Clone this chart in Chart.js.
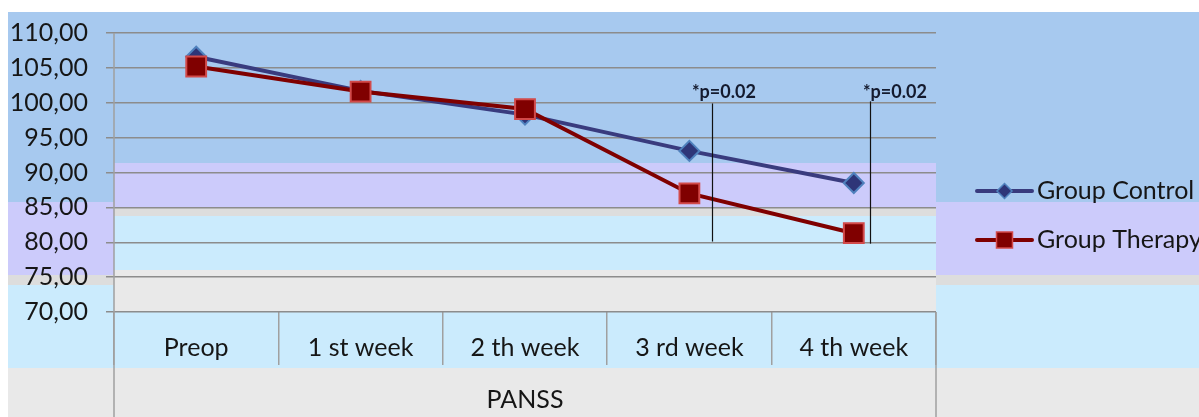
<!DOCTYPE html>
<html>
<head>
<meta charset="utf-8">
<script src="https://cdn.jsdelivr.net/npm/chart.js@4.4.1/dist/chart.umd.min.js"></script>
<style>
  html, body { margin: 0; padding: 0; background: #fff; }
  #chart { display: block; }
</style>
</head>
<body>
<canvas id="chart" width="1199" height="417"></canvas>
<script>
// values
const categories = ['Preop', '1 st week', '2 th week', '3 rd week', '4 th week'];
const groupLabel = 'PANSS';
const seriesNames = ['Group Control', 'Group Therapy'];
const controlValues = [106.6, 101.7, 98.3, 93.1, 88.5];
const therapyValues = [105.2, 101.6, 99.1, 87.0, 81.3];
const yMin = 70, yMax = 110, yStep = 5;

// significance markers (category index / value coordinates)
const pLabels = ['*p=0.02', '*p=0.02'];
const pLineAt = [3.14, 4.1];
const pLineFrom = [99.9, 100.2];
const pLineTo = [80.1, 79.8];
const pLabelAt = [3.21, 4.25];
const pLabelValue = 100.75;

const FONT = 'Lato';
const TEXT = '#161616';
const NAVY = '#393b7e';
const DARKRED = '#7f0000';

// odd striped background of the original picture
const bandsPlugin = {
  id: 'bands',
  beforeDraw(chart) {
    const ctx = chart.ctx;
    const { left, right } = chart.chartArea;
    const W = chart.width, H = chart.height;
    const BLUE = '#a7c9ef', LAV = '#cccbfb', GREY = '#dddddd', SKY = '#cbebfd', PALE = '#e9e9e9';
    ctx.save();
    ctx.fillStyle = '#fff';
    ctx.fillRect(0, 0, W, H);
    const outer = [[12, 202, BLUE], [202, 275, LAV], [275, 285, GREY], [285, 368, SKY], [368, H, PALE]];
    outer.forEach(([a, b, c]) => { ctx.fillStyle = c; ctx.fillRect(8, a, W - 8, b - a); });
    const inner = [[12, 163, BLUE], [163, 208, LAV], [208, 216, GREY], [216, 270, SKY],
                   [270, 312, PALE], [312, 368, SKY], [368, H, PALE]];
    inner.forEach(([a, b, c]) => { ctx.fillStyle = c; ctx.fillRect(left, a, right - left, b - a); });
    ctx.restore();
  }
};

// axis line running down past the category box, and the box's right side
const framePlugin = {
  id: 'frame',
  afterDraw(chart) {
    const ctx = chart.ctx;
    const { left, right, top, bottom } = chart.chartArea;
    ctx.save();
    ctx.strokeStyle = '#a0a0a0';
    ctx.lineWidth = 1.5;
    ctx.beginPath();
    ctx.moveTo(left, top);
    ctx.lineTo(left, chart.height);
    ctx.moveTo(right, bottom);
    ctx.lineTo(right, chart.height);
    ctx.stroke();
    ctx.restore();
  }
};

const pValuePlugin = {
  id: 'pvalues',
  afterDatasetsDraw(chart) {
    const ctx = chart.ctx;
    const x = chart.scales.x, y = chart.scales.y;
    ctx.save();
    ctx.strokeStyle = '#111';
    ctx.lineWidth = 1.2;
    ctx.fillStyle = '#141a2e';
    ctx.font = 'bold 18px ' + FONT;
    ctx.textAlign = 'center';
    ctx.textBaseline = 'alphabetic';
    pLabels.forEach((txt, i) => {
      const px = Math.round(x.getPixelForValue(pLineAt[i])) + 0.5;
      ctx.beginPath();
      ctx.moveTo(px, y.getPixelForValue(pLineFrom[i]));
      ctx.lineTo(px, y.getPixelForValue(pLineTo[i]));
      ctx.stroke();
      ctx.fillText(txt, x.getPixelForValue(pLabelAt[i]), y.getPixelForValue(pLabelValue));
    });
    ctx.restore();
  }
};

const legendPlugin = {
  id: 'sideLegend',
  afterDraw(chart) {
    const ctx = chart.ctx;
    const x0 = 977, x1 = 1032, rows = [191, 240];
    ctx.save();
    chart.data.datasets.forEach((ds, i) => {
      const yy = rows[i];
      const cx = (x0 + x1) / 2;
      ctx.strokeStyle = ds.borderColor;
      ctx.lineWidth = 4;
      ctx.lineCap = 'round';
      ctx.beginPath();
      ctx.moveTo(x0, yy);
      ctx.lineTo(x1, yy);
      ctx.stroke();
      ctx.fillStyle = ds.pointBackgroundColor;
      ctx.strokeStyle = ds.pointBorderColor;
      ctx.lineWidth = 1.5;
      ctx.beginPath();
      if (ds.pointStyle === 'rectRot') {
        const r = 7.5;
        ctx.moveTo(cx, yy - r); ctx.lineTo(cx + r, yy); ctx.lineTo(cx, yy + r); ctx.lineTo(cx - r, yy);
        ctx.closePath();
      } else {
        const s = 8;
        ctx.rect(cx - s, yy - s, 2 * s, 2 * s);
      }
      ctx.fill();
      ctx.stroke();
      ctx.fillStyle = TEXT;
      ctx.font = '25px ' + FONT;
      ctx.textAlign = 'left';
      ctx.textBaseline = 'middle';
      ctx.fillText(ds.label, x1 + 5, yy);
    });
    ctx.restore();
  }
};

new Chart(document.getElementById('chart'), {
  type: 'line',
  data: {
    labels: categories,
    datasets: [
      {
        label: seriesNames[0], data: controlValues,
        borderColor: NAVY, borderWidth: 4,
        pointStyle: 'rectRot', pointRadius: 10, pointBorderWidth: 2,
        pointBackgroundColor: '#2e3578', pointBorderColor: '#4f81bd',
        order: 2
      },
      {
        label: seriesNames[1], data: therapyValues,
        borderColor: DARKRED, borderWidth: 4,
        pointStyle: 'rect', pointRadius: 14, pointBorderWidth: 2,
        pointBackgroundColor: '#800000', pointBorderColor: '#d24a4a',
        order: 1
      }
    ]
  },
  options: {
    responsive: false,
    animation: false,
    layout: { padding: { top: 29, right: 263, bottom: 0, left: 0 } },
    plugins: { legend: { display: false }, tooltip: { enabled: false } },
    scales: {
      x: {
        offset: true,
        grid: { offset: true, drawOnChartArea: false, tickLength: 53, color: '#a0a0a0', lineWidth: 1.5 },
        border: { display: false },
        ticks: { padding: -32, maxRotation: 0, color: TEXT, font: { family: FONT, size: 25 } },
        title: { display: true, text: groupLabel, color: TEXT, font: { family: FONT, size: 25 }, padding: { top: 0, bottom: 2 } },
        afterFit(s) { s.height = 105; }
      },
      y: {
        min: yMin, max: yMax,
        ticks: {
          stepSize: yStep, padding: 18, color: TEXT, font: { family: FONT, size: 25 },
          callback: v => v.toFixed(2).replace('.', ',')
        },
        grid: { color: '#8c8c8c', lineWidth: 1.5, tickLength: 8 },
        border: { display: false },
        afterFit(s) { s.width = 114; }
      }
    }
  },
  plugins: [bandsPlugin, framePlugin, pValuePlugin, legendPlugin]
});
</script>
</body>
</html>
